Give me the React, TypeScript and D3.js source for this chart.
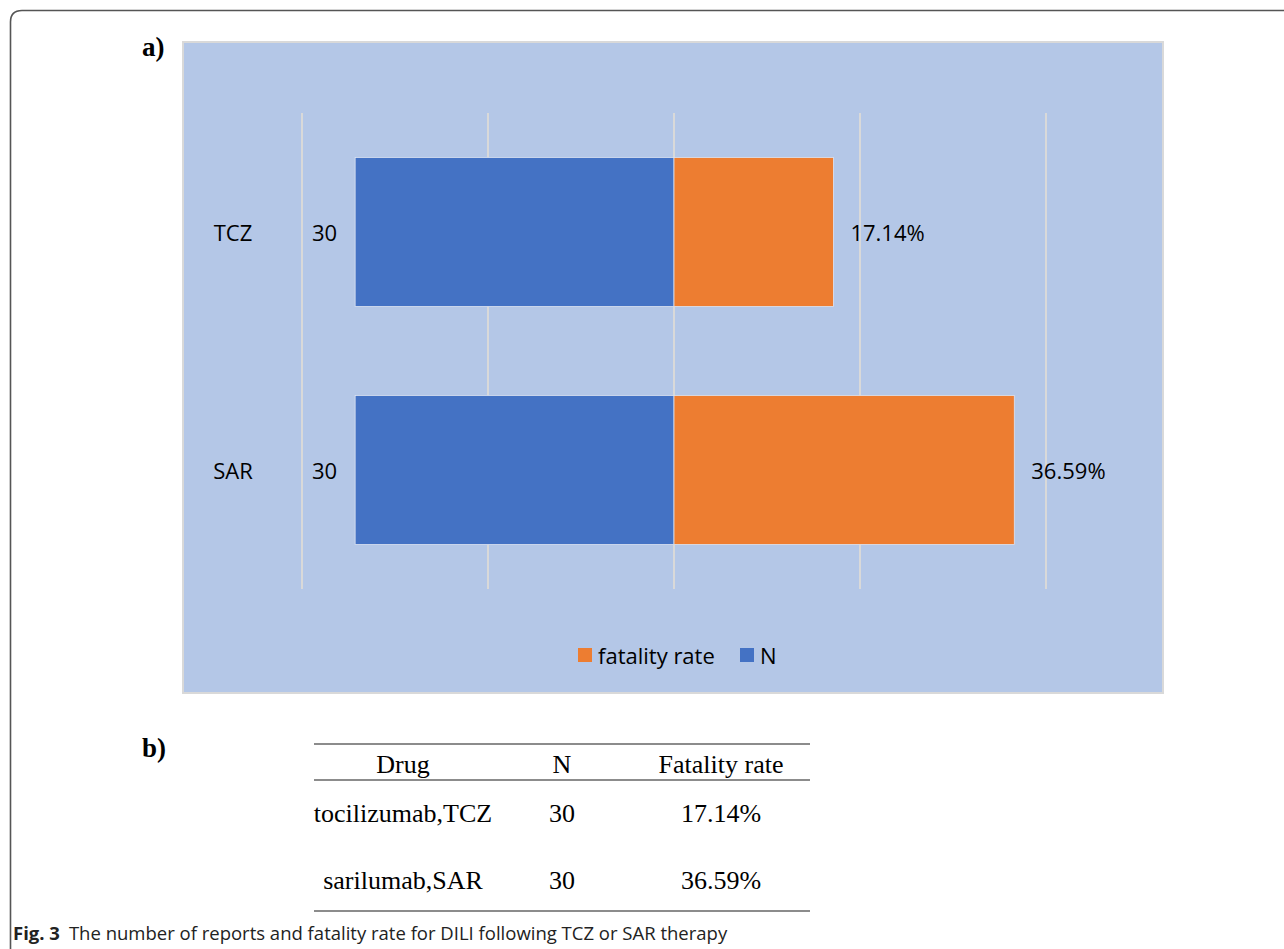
import { scaleBand, scaleLinear } from "d3";

const drugs = ["TCZ", "SAR"];
const drugNames = ["tocilizumab,TCZ", "sarilumab,SAR"];
const nValues = [30, 30];
const fatalityRates = [17.14, 36.59];
const gridTicks = [-40, -20, 0, 20, 40];
const tableHeaders = ["Drug", "N", "Fatality rate"];

const BLUE = "#4472C4";
const ORANGE = "#ED7D31";
const BG = "#B4C7E7";
const GRID = "#D9D9D9";

const sans = "'Open Sans', 'Noto Sans', sans-serif";
const serif = "'Liberation Serif', 'DejaVu Serif', serif";

const App = () => {
  // shared percent axis for gridlines and fatality bars
  const xRate = scaleLinear().domain([-40, 40]).range([302, 1046]);
  // N bars grow to the left from the centre line
  const xN = scaleLinear().domain([0, 35]).range([xRate(0), xRate(-40)]);
  const y = scaleBand<string>()
    .domain(drugs)
    .range([113, 589])
    .paddingInner(0.374)
    .paddingOuter(0.187);

  const colX = [403, 562, 721];
  const rowY = [822, 889];

  return (
    <div style={{ position: "absolute", left: 0, top: 0 }}>
      <svg width={1284} height={949} style={{ display: "block", background: "#fff" }}>
        {/* figure frame */}
        <path
          d="M10.5,949 L10.5,22 Q10.5,10.5 22,10.5 L1284,10.5"
          fill="none"
          stroke="#555"
          strokeWidth={1.6}
        />

        <text x={142} y={56} fontFamily={serif} fontWeight="bold" fontSize={27}>
          a)
        </text>

        {/* chart area */}
        <rect x={183} y={42} width={980} height={651} fill={BG} stroke={GRID} strokeWidth={2} />

        {gridTicks.map((t) => (
          <line
            key={t}
            x1={xRate(t)}
            x2={xRate(t)}
            y1={113}
            y2={589}
            stroke={GRID}
            strokeWidth={2}
          />
        ))}

        {drugs.map((d, i) => {
          const by = y(d)!;
          const bw = y.bandwidth();
          const cy = by + bw / 2;
          return (
            <g key={d}>
              <rect
                x={xN(nValues[i])}
                y={by}
                width={xN(0) - xN(nValues[i])}
                height={bw}
                fill={BLUE}
                stroke="#DCE4F2"
                strokeWidth={0.8}
              />
              <rect
                x={xRate(0)}
                y={by}
                width={xRate(fatalityRates[i]) - xRate(0)}
                height={bw}
                fill={ORANGE}
                stroke="#DCE4F2"
                strokeWidth={0.8}
              />
              <text
                x={233}
                y={cy}
                textAnchor="middle"
                dominantBaseline="central"
                fontFamily={sans}
                fontSize={22}
              >
                {d}
              </text>
              <text
                x={xN(nValues[i]) - 18}
                y={cy}
                textAnchor="end"
                dominantBaseline="central"
                fontFamily={sans}
                fontSize={22}
              >
                {nValues[i]}
              </text>
              <text
                x={xRate(fatalityRates[i]) + 17}
                y={cy}
                dominantBaseline="central"
                fontFamily={sans}
                fontSize={22}
              >
                {fatalityRates[i].toFixed(2)}%
              </text>
            </g>
          );
        })}

        {/* legend */}
        <g fontFamily={sans} fontSize={22}>
          <rect x={578} y={648} width={14} height={14} fill={ORANGE} />
          <text x={598} y={655} dominantBaseline="central">
            fatality rate
          </text>
          <rect x={740} y={648} width={14} height={14} fill={BLUE} />
          <text x={760} y={655} dominantBaseline="central">
            N
          </text>
        </g>

        <text x={142} y={757} fontFamily={serif} fontWeight="bold" fontSize={27}>
          b)
        </text>

        {/* table */}
        <line x1={314} x2={810} y1={744} y2={744} stroke="#666" strokeWidth={1.5} />
        <line x1={314} x2={810} y1={780} y2={780} stroke="#666" strokeWidth={1.5} />
        <line x1={314} x2={810} y1={911} y2={911} stroke="#666" strokeWidth={1.5} />
        <g fontFamily={serif} fontSize={26} textAnchor="middle">
          {tableHeaders.map((h, i) => (
            <text key={h} x={colX[i]} y={773}>
              {h}
            </text>
          ))}
          {drugNames.map((name, i) => (
            <g key={name}>
              <text x={colX[0]} y={rowY[i]}>
                {name}
              </text>
              <text x={colX[1]} y={rowY[i]}>
                {nValues[i]}
              </text>
              <text x={colX[2]} y={rowY[i]}>
                {fatalityRates[i].toFixed(2)}%
              </text>
            </g>
          ))}
        </g>

        {/* caption */}
        <text x={13} y={940} fontFamily={sans} fontSize={18.5} fill="#222">
          <tspan fontWeight="bold">Fig. 3</tspan>
          <tspan dx={9}>The number of reports and fatality rate for DILI following TCZ or SAR therapy</tspan>
        </text>
      </svg>
    </div>
  );
};

export default App;
